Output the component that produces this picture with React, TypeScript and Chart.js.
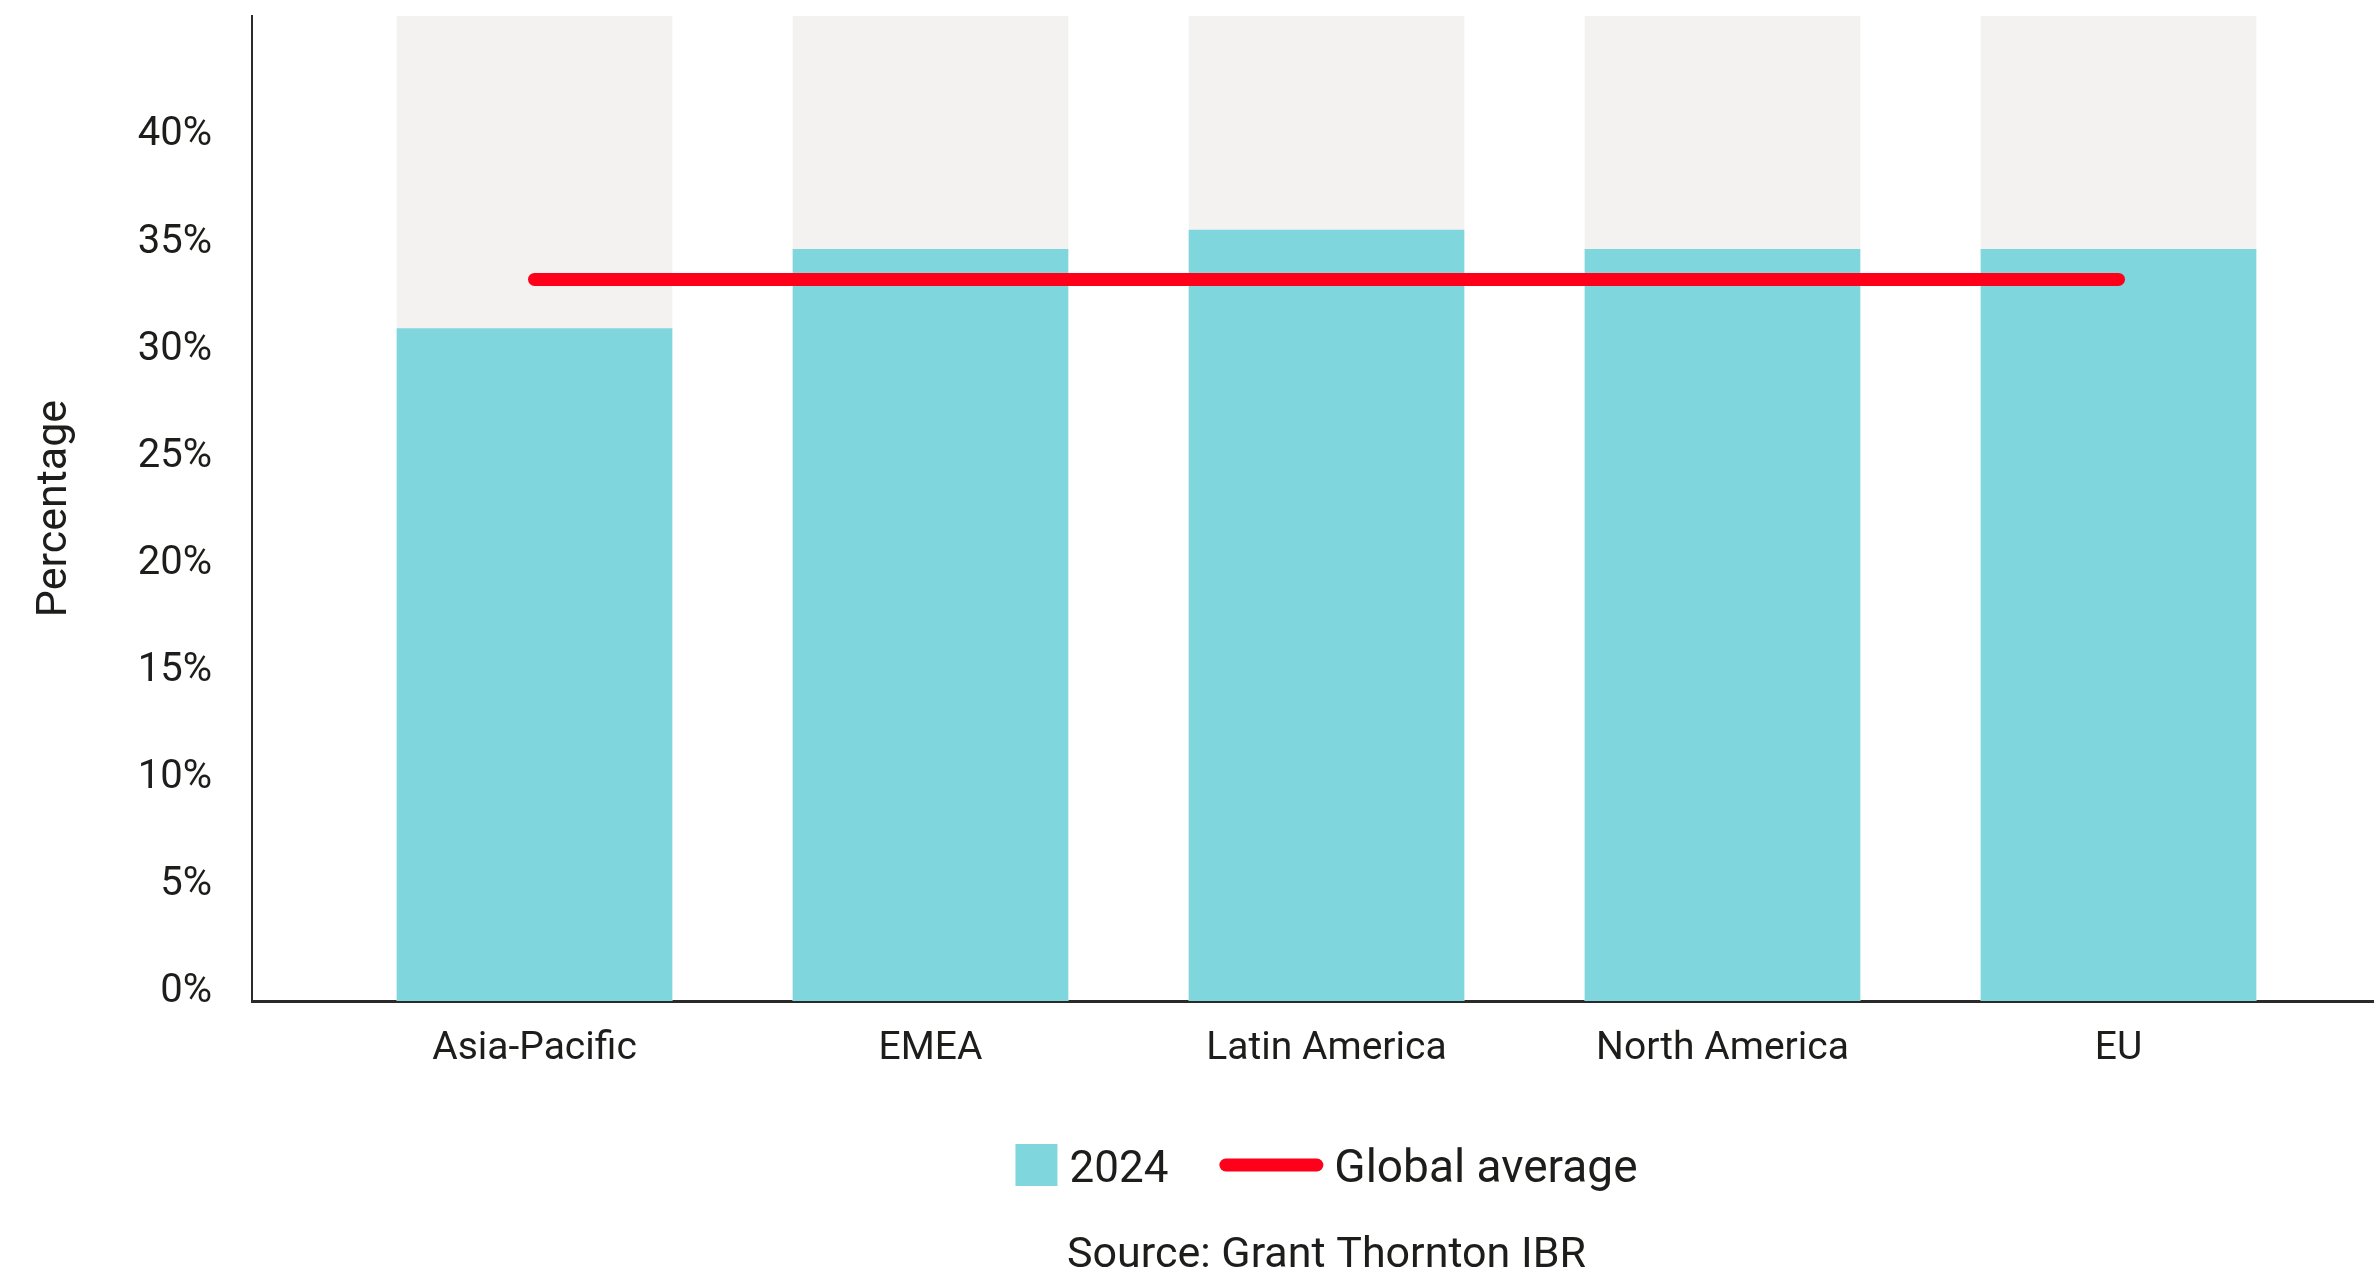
import React, { useEffect, useRef } from "react";
import { Chart, registerables } from "chart.js";

Chart.register(...registerables);

const categories = ["Asia-Pacific", "EMEA", "Latin America", "North America", "EU"];
const values2024 = [31.4, 35.1, 36.0, 35.1, 35.1];
const globalAverage = [33.7, 33.7, 33.7, 33.7, 33.7];
const trackValues = [46, 46, 46, 46, 46];
const yTickValues = [0, 5, 10, 15, 20, 25, 30, 35, 40];
const seriesLabel = "2024";
const averageLabel = "Global average";
const yAxisTitle = "Percentage";
const sourceText = "Source: Grant Thornton IBR";

const FONT = "Roboto, 'Noto Sans', sans-serif";
const TEXT = "#1d1d1b";
const TEAL = "#80d6dd";
const TRACK = "#f3f2f0";
const RED = "#ff001b";

const legendSourcePlugin = {
  id: "legendSource",
  afterDraw(chart: any) {
    const ctx = chart.ctx as CanvasRenderingContext2D;
    const xs = chart.scales.x;
    const cx = (xs.getPixelForValue(0) + xs.getPixelForValue(categories.length - 1)) / 2;
    ctx.save();
    ctx.fillStyle = TEXT;
    ctx.textBaseline = "alphabetic";
    ctx.textAlign = "left";
    ctx.font = `44px ${FONT}`;
    const w1 = ctx.measureText(seriesLabel).width;
    ctx.font = `46px ${FONT}`;
    const w2 = ctx.measureText(averageLabel).width;
    const box = 42;
    const gap1 = 12;
    const gap2 = 51;
    const lineLen = 104;
    const gap3 = 11;
    const total = box + gap1 + w1 + gap2 + lineLen + gap3 + w2;
    let x = cx - total / 2;
    const cy = 1165;
    ctx.fillStyle = TEAL;
    ctx.fillRect(x, cy - box / 2, box, box);
    x += box + gap1;
    ctx.fillStyle = TEXT;
    ctx.font = `44px ${FONT}`;
    ctx.fillText(seriesLabel, x, 1182);
    x += w1 + gap2;
    ctx.strokeStyle = RED;
    ctx.lineWidth = 13;
    ctx.lineCap = "round";
    ctx.beginPath();
    ctx.moveTo(x + 6.5, cy);
    ctx.lineTo(x + lineLen - 6.5, cy);
    ctx.stroke();
    x += lineLen + gap3;
    ctx.fillStyle = TEXT;
    ctx.font = `46px ${FONT}`;
    ctx.fillText(averageLabel, x, 1182);

    ctx.font = `43px ${FONT}`;
    ctx.textAlign = "center";
    ctx.fillText(sourceText, cx, 1267);
    ctx.restore();
  },
};

export default function App() {
  const canvasRef = useRef<HTMLCanvasElement | null>(null);

  useEffect(() => {
    if (!canvasRef.current) return;
    const chart = new Chart(canvasRef.current, {
      type: "bar",
      data: {
        datasets: [
          {
            type: "line",
            label: averageLabel,
            data: globalAverage.map((v, i) => ({ x: i, y: v })),
            borderColor: RED,
            backgroundColor: RED,
            borderWidth: 13,
            borderCapStyle: "round",
            pointRadius: 0,
            order: 0,
          } as any,
          {
            type: "bar",
            label: seriesLabel,
            data: values2024.map((v, i) => ({ x: i, y: v })),
            backgroundColor: TEAL,
            barThickness: 275,
            grouped: false,
            order: 1,
          } as any,
          {
            type: "bar",
            label: "track",
            data: trackValues.map((v, i) => ({ x: i, y: v })),
            backgroundColor: TRACK,
            barThickness: 275,
            grouped: false,
            order: 2,
          } as any,
        ],
      },
      options: {
        animation: false,
        responsive: true,
        maintainAspectRatio: false,
        devicePixelRatio: 1,
        events: [],
        layout: { padding: { left: 0, right: 4, top: 16, bottom: 0 } },
        plugins: {
          legend: { display: false },
          tooltip: { enabled: false },
        },
        scales: {
          x: {
            type: "linear",
            offset: false,
            min: -0.7134,
            max: 4.6427,
            afterFit: (s: any) => {
              s.height = 269;
              s.paddingLeft = 0;
              s.paddingRight = 0;
            },
            afterBuildTicks: (s: any) => {
              s.ticks = categories.map((_, i) => ({ value: i }));
            },
            grid: { display: false, drawTicks: false, offset: false },
            border: { display: true, color: "#2a2a2a", width: 3 },
            ticks: {
              padding: 25,
              color: TEXT,
              font: { family: FONT, size: 39 },
              maxRotation: 0,
              autoSkip: false,
              callback: (v: any) => categories[Number(v)] ?? "",
            },
          },
          y: {
            type: "linear",
            min: 0,
            max: 46,
            afterFit: (s: any) => {
              s.width = 252;
              s.paddingTop = 0;
              s.paddingBottom = 0;
            },
            afterBuildTicks: (s: any) => {
              s.ticks = yTickValues.map((v) => ({ value: v }));
            },
            grid: { display: false, drawTicks: false },
            border: { display: true, color: "#2a2a2a", width: 2 },
            ticks: {
              padding: 40,
              labelOffset: -9,
              color: TEXT,
              font: { family: FONT, size: 40 },
              callback: (v: any) => `${v}%`,
            },
            title: {
              display: true,
              text: yAxisTitle,
              color: TEXT,
              font: { family: FONT, size: 43, lineHeight: 1 },
              padding: { top: 34, bottom: 0 },
            },
          },
        },
      },
      plugins: [legendSourcePlugin],
    });
    return () => chart.destroy();
  }, []);

  return (
    <div style={{ position: "fixed", left: 0, top: 0, width: 2377, height: 1270 }}>
      <canvas ref={canvasRef} />
    </div>
  );
}
